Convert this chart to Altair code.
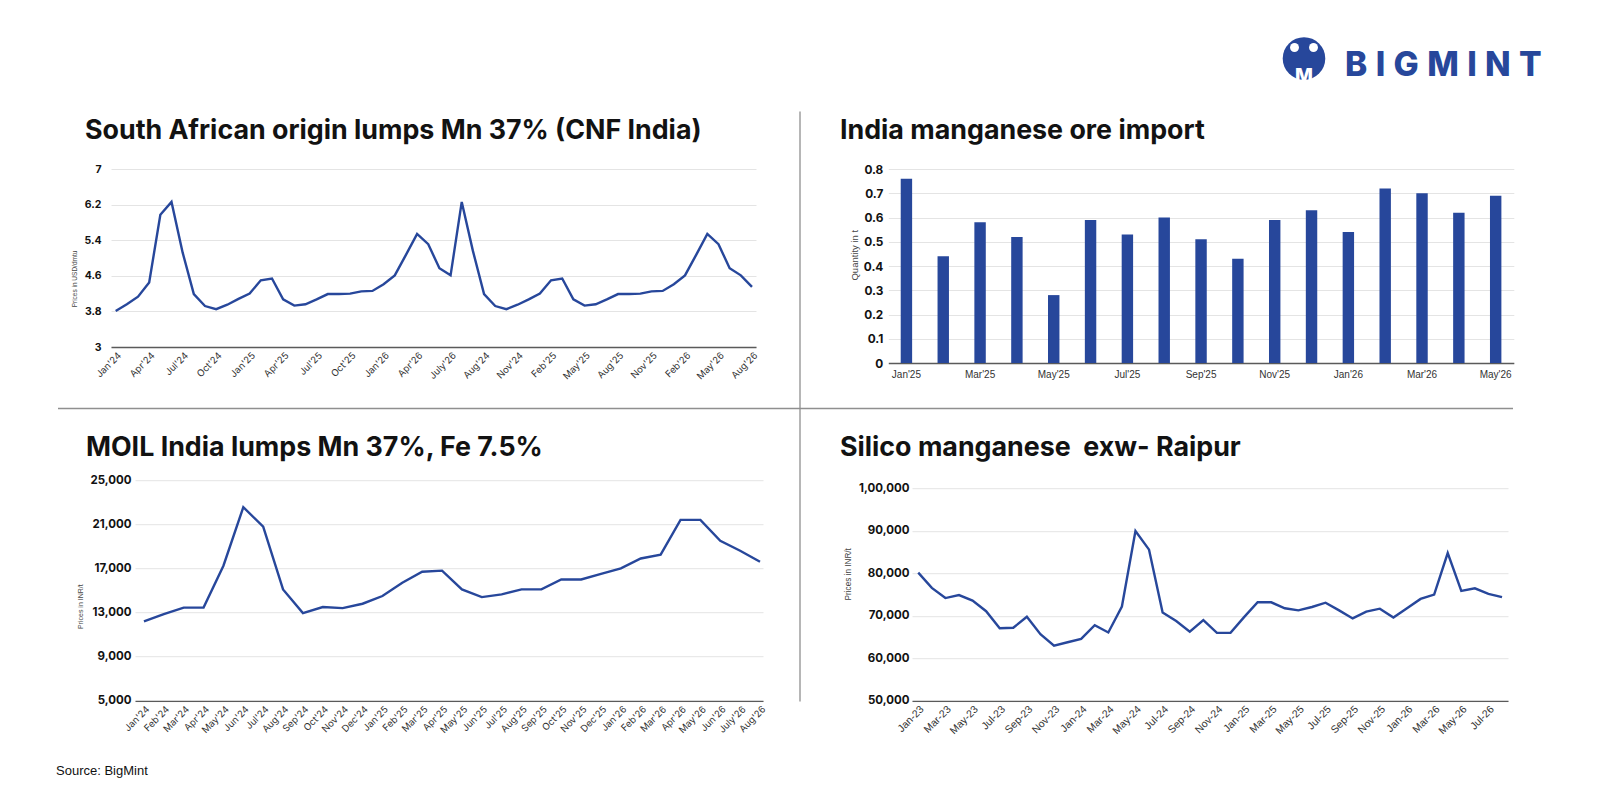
import json

import altair as alt
import pandas as pd

BLUE = "#27479b"
INK = "#121212"
GRID = "#e4e4e4"
AXIS = "#5a5a5a"

# South African origin lumps (USD/dmtu)
tl_title = "South African origin lumps Mn 37% (CNF India)"
tl_ytitle = "Prices in USD/dmtu"
tl_prices = [3.81, 3.96, 4.13, 4.45, 5.97, 6.26, 5.12, 4.19, 3.92, 3.85, 3.95, 4.08,
             4.20, 4.50, 4.54, 4.07, 3.93, 3.96, 4.07, 4.19, 4.19, 4.20, 4.25, 4.26,
             4.41, 4.61, 5.07, 5.54, 5.31, 4.77, 4.61, 6.26, 5.16, 4.19, 3.92, 3.85,
             3.95, 4.07, 4.20, 4.50, 4.54, 4.07, 3.93, 3.96, 4.07, 4.19, 4.19, 4.20,
             4.25, 4.26, 4.41, 4.61, 5.07, 5.54, 5.31, 4.77, 4.61, 4.35]
tl_xticks = ["Jan'24", "Apr'24", "Jul'24", "Oct'24", "Jan'25", "Apr'25", "Jul'25",
             "Oct'25", "Jan'26", "Apr'26", "July'26", "Aug'24", "Nov'24", "Feb'25",
             "May'25", "Aug'25", "Nov'25", "Feb'26", "May'26", "Aug'26"]
tl_yticks = [3, 3.8, 4.6, 5.4, 6.2, 7]

# India manganese ore import
tr_title = "India manganese ore import"
tr_ytitle = "Quantity in t"
tr_months = ["Jan'25", "Feb'25", "Mar'25", "Apr'25", "May'25", "Jun'25", "Jul'25",
             "Aug'25", "Sep'25", "Oct'25", "Nov'25", "Dec'25", "Jan'26", "Feb'26",
             "Mar'26", "Apr'26", "May'26"]
tr_qty = [0.76, 0.44, 0.58, 0.52, 0.28, 0.59, 0.53, 0.60, 0.51, 0.43, 0.59, 0.63,
          0.54, 0.72, 0.70, 0.62, 0.69]
tr_yticks = [0, 0.1, 0.2, 0.3, 0.4, 0.5, 0.6, 0.7, 0.8]

# MOIL lumps (INR/t)
bl_title = "MOIL India lumps Mn 37%, Fe 7.5%"
bl_ytitle = "Prices in INR/t"
bl_months = ["Jan'24", "Feb'24", "Mar'24", "Apr'24", "May'24", "Jun'24", "Jul'24",
             "Aug'24", "Sep'24", "Oct'24", "Nov'24", "Dec'24", "Jan'25", "Feb'25",
             "Mar'25", "Apr'25", "May'25", "Jun'25", "Jul'25", "Aug'25", "Sep'25",
             "Oct'25", "Nov'25", "Dec'25", "Jan'26", "Feb'26", "Mar'26", "Apr'26",
             "May'26", "Jun'26", "July'26", "Aug'26"]
bl_prices = [12200, 12850, 13450, 13450, 17250, 22550, 20800, 15100, 12950, 13500,
             13400, 13800, 14500, 15700, 16700, 16800, 15100, 14400, 14650, 15100,
             15100, 16000, 16000, 16500, 17000, 17900, 18250, 21400, 21400, 19500,
             18600, 17600]
bl_yticks = [5000, 9000, 13000, 17000, 21000, 25000]

# Silico manganese exw-Raipur (INR/t)
br_title = "Silico manganese\u00a0 exw- Raipur"
br_ytitle = "Prices in INR/t"
br_prices = [80200, 76600, 74200, 74900, 73600, 71100, 67100, 67200, 69800, 65700,
             63000, 63800, 64600, 67800, 66100, 72200, 90000, 85600, 70800, 68800,
             66300, 69000, 66000, 66000, 69700, 73200, 73200, 71800, 71300, 72100,
             73100, 71300, 69400, 71000, 71700, 69600, 71800, 74000, 75000, 84800,
             75900, 76500, 75200, 74400]
br_xticks = ["Jan-23", "Mar-23", "May-23", "Jul-23", "Sep-23", "Nov-23", "Jan-24",
             "Mar-24", "May-24", "Jul-24", "Sep-24", "Nov-24", "Jan-25", "Mar-25",
             "May-25", "Jul-25", "Sep-25", "Nov-25", "Jan-26", "Mar-26", "May-26",
             "Jul-26"]
br_yticks = [50000, 60000, 70000, 80000, 90000, 100000]
br_ylabels = ["50,000", "60,000", "70,000", "80,000", "90,000", "1,00,000"]

source_note = "Source: BigMint"
brand = "BIGMINT"


def text(t, x, y, size, color=INK, weight="normal", font="Inter", align="left",
         baseline="alphabetic"):
    return alt.Chart(pd.DataFrame({"t": [t]})).mark_text(
        align=align, baseline=baseline, font=font, fontSize=size,
        fontWeight=weight, color=color,
    ).encode(text="t:N", x=alt.value(x), y=alt.value(y))


def title(t, x, y):
    return text(t, x, y, 26.8, weight=700)


def rule(**enc):
    return alt.Chart(pd.DataFrame({"a": [0]})).mark_rule(
        color="#8f8f8f", strokeWidth=1.3
    ).encode(**{k: alt.value(v) for k, v in enc.items()})


def dot(x, y, size, color):
    return alt.Chart(pd.DataFrame({"a": [0]})).mark_circle(
        size=size, color=color, opacity=1
    ).encode(x=alt.value(x), y=alt.value(y))


def x_axis(**kw):
    return alt.Axis(title=None, grid=False, ticks=False, tickSize=0, domainColor=AXIS,
                    domainWidth=1.3, labelColor="#333", labelOverlap=False,
                    labelFlush=False, labelBound=False, **kw)


def y_axis(ttl, tx, ty, tsize, lsize, pad, **kw):
    return alt.Axis(title=ttl, titleX=tx, titleY=ty, titleFont="Liberation Sans",
                    titleFontSize=tsize, titleFontWeight="normal", titleColor="#444",
                    titleAlign="center", titleBaseline="middle", titleAngle=-90,
                    grid=True, gridColor=GRID, gridWidth=1, domain=False, ticks=False,
                    tickSize=0, labelFont="Inter", labelFontWeight=700,
                    labelFontSize=lsize, labelColor=INK, labelPadding=pad,
                    labelOverlap=False, labelFlush=False, **kw)


# ---- top left
tl_df = pd.DataFrame({"idx": range(len(tl_prices)), "price": tl_prices})
tl_line = alt.Chart(tl_df).mark_line(color=BLUE, strokeWidth=2.4).encode(
    x=alt.X("idx:Q", scale=alt.Scale(domain=[-0.42, 57.36], nice=False, zero=False),
            axis=x_axis(values=list(range(0, len(tl_prices), 3)), labelAngle=-45,
                        labelFont="Inter", labelFontSize=9.5, labelPadding=3,
                        labelExpr=json.dumps(tl_xticks) + "[datum.value / 3]")),
    y=alt.Y("price:Q", scale=alt.Scale(domain=[3, 7], nice=False, zero=False),
            axis=y_axis(tl_ytitle, -37, 109.5, 6.5, 10.5, 10, values=tl_yticks,
                        labelExpr="format(datum.value, '~g')")),
)
tl = alt.layer(
    tl_line,
    title(tl_title, -26, -29.8),
    rule(x=689, y=-57.5, y2=532.5),
    rule(y=239.5, x=-53, x2=1402),
).properties(width=645, height=178)

# ---- top right
tr_df = pd.DataFrame({"month": tr_months, "qty": tr_qty})
tr_bars = alt.Chart(tr_df).mark_bar(color=BLUE).encode(
    x=alt.X("month:O", sort=tr_months,
            scale=alt.Scale(paddingInner=0.69, paddingOuter=0.337),
            axis=x_axis(values=tr_months[::2], labelAngle=0, labelFont="Liberation Sans",
                        labelFontSize=10, labelPadding=6)),
    y=alt.Y("qty:Q", scale=alt.Scale(domain=[0, 0.8], nice=False),
            axis=y_axis(tr_ytitle, -34.3, 85.7, 9.5, 11.8, 5.5, values=tr_yticks,
                        labelExpr="format(datum.value, '~g')")),
)
tr = alt.layer(
    tr_bars,
    title(tr_title, -48.3, -29.8),
    dot(415.7, -110.5, 1810, BLUE),
    dot(406.2, -121.5, 80, "white"),
    dot(425.2, -121.5, 80, "white"),
    text("M", 415.7, -87.5, 19, color="white", weight=800, align="center"),
    text("\u2005".join(brand), 456.7, -93.2, 33.5, color=BLUE, weight=800),
).properties(width=625.5, height=194)

# ---- bottom left
bl_df = pd.DataFrame({"idx": range(len(bl_prices)), "price": bl_prices})
bl_line = alt.Chart(bl_df).mark_line(color=BLUE, strokeWidth=2.4).encode(
    x=alt.X("idx:Q", scale=alt.Scale(domain=[-0.45, 31.15], nice=False, zero=False),
            axis=x_axis(values=list(range(len(bl_prices))), labelAngle=-45,
                        labelFont="Inter", labelFontSize=9.5, labelPadding=3,
                        labelExpr=json.dumps(bl_months) + "[datum.value]")),
    y=alt.Y("price:Q", scale=alt.Scale(domain=[5000, 25000], nice=False, zero=False),
            axis=y_axis(bl_ytitle, -55, 126, 7, 11.5, 4, values=bl_yticks,
                        labelExpr="format(datum.value, ',')")),
)
bl = alt.layer(
    bl_line,
    title(bl_title, -49, -24.4),
    text(source_note, -79, 294.8, 13, color="#111", font="Liberation Sans"),
).properties(width=628, height=220.6)

# ---- bottom right
br_df = pd.DataFrame({"idx": range(len(br_prices)), "price": br_prices})
br_line = alt.Chart(br_df).mark_line(color=BLUE, strokeWidth=2.4).encode(
    x=alt.X("idx:Q", scale=alt.Scale(domain=[-0.46, 43.44], nice=False, zero=False),
            axis=x_axis(values=list(range(0, len(br_prices), 2)), labelAngle=-45,
                        labelFont="Liberation Sans", labelFontSize=10.5, labelPadding=3,
                        labelExpr=json.dumps(br_xticks) + "[datum.value / 2]")),
    y=alt.Y("price:Q", scale=alt.Scale(domain=[50000, 101960], nice=False, zero=False),
            axis=y_axis(br_ytitle, -63.7, 93.6, 8.2, 11.5, 3, values=br_yticks,
                        labelExpr=json.dumps(br_ylabels)
                        + "[(datum.value - 50000) / 10000]")),
)
br = alt.layer(
    br_line,
    title(br_title, -72, -24.4),
).properties(width=596, height=220.6)

spacer = alt.Chart(pd.DataFrame({"a": [0]})).mark_point(opacity=0).encode(
    x=alt.value(0), y=alt.value(0)
).properties(width=1, height=1)

row1 = alt.hconcat(tl, tr, spacing=132.3, bounds="flush")
row2 = alt.hconcat(alt.hconcat(spacer, bl, spacing=23, bounds="flush"), br,
                   spacing=801, bounds="flush")

chart = alt.vconcat(row1, row2, spacing=311.2, bounds="flush").properties(
    padding={"left": 48, "top": 29, "right": 8, "bottom": 8},
    background="white",
).configure_view(strokeWidth=0)

chart.save("out.html", embed_options={"renderer": "svg", "actions": False})
